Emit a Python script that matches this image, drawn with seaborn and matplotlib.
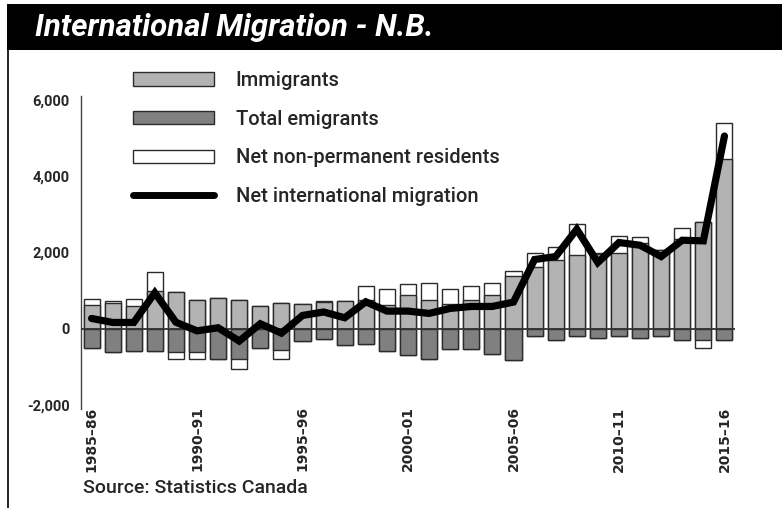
import numpy as np
import pandas as pd
import seaborn as sns
import matplotlib.pyplot as plt
from matplotlib import font_manager
from matplotlib.patches import Patch, Rectangle
from matplotlib.lines import Line2D

years = ["1985–86", "1986–87", "1987–88", "1988–89", "1989–90", "1990–91", "1991–92",
         "1992–93", "1993–94", "1994–95", "1995–96", "1996–97", "1997–98", "1998–99",
         "1999–00", "2000–01", "2001–02", "2002–03", "2003–04", "2004–05", "2005–06",
         "2006–07", "2007–08", "2008–09", "2009–10", "2010–11", "2011–12", "2012–13",
         "2013–14", "2014–15", "2015–16"]
immigrants = [620, 670, 590, 1000, 960, 742, 810, 755, 590, 675, 645, 690, 725, 742, 611, 873,
              760, 646, 751, 873, 1385, 1624, 1798, 1929, 1950, 1995, 2255, 2075, 2366, 2811, 4461]
emigrants = [515, 602, 585, 585, 600, 600, 786, 803, 495, 559, 315, 279, 428, 402, 585, 698,
             786, 532, 532, 655, 815, 185, 288, 183, 244, 183, 253, 183, 306, 306, 288]
net_npr = [165, 70, 180, 490, -190, -190, 0, -258, 0, -244, 0, 50, 0, 367, 419, 297,
           436, 402, 358, 340, 131, 370, 358, 830, 30, 437, 145, 0, 288, -200, 943]
net_migration = [270, 165, 165, 943, 170, -55, 26, -323, 131, -115, 349, 440, 288, 707, 463, 463,
                 402, 533, 585, 585, 700, 1816, 1894, 2610, 1737, 2261, 2191, 1894, 2322, 2305, 5055]

df = pd.DataFrame({"year": years, "imm": immigrants, "emig": emigrants, "npr": net_npr,
                   "net": net_migration})
df["top"] = df.imm + df.npr.clip(lower=0)
df["low"] = -(df.emig - df.npr.clip(upper=0))
df["neg_emig"] = -df.emig
df["pos"] = np.arange(len(df))

names = {f.name for f in font_manager.fontManager.ttflist}
narrow = "Roboto" if "Roboto" in names else "DejaVu Sans"

sns.set_style("white")
plt.rcParams["font.family"] = ["DejaVu Sans"]

fig = plt.figure(figsize=(7.82, 5.08), dpi=100)
ax = fig.add_axes([81 / 782, 103 / 508, 654 / 782, 305 / 508])

light = "#b3b3b3"
dark = "#808080"
edge = "#2b2b2b"
bw = 0.76

# white NPR parts go underneath, the grey bars are drawn over them
sns.barplot(data=df, x="year", y="top", color="white", edgecolor=edge, linewidth=1,
            width=bw, saturation=1, ax=ax)
sns.barplot(data=df, x="year", y="imm", color=light, edgecolor=edge, linewidth=1,
            width=bw, saturation=1, ax=ax)
sns.barplot(data=df, x="year", y="low", color="white", edgecolor=edge, linewidth=1,
            width=bw, saturation=1, ax=ax)
sns.barplot(data=df, x="year", y="neg_emig", color=dark, edgecolor=edge, linewidth=1,
            width=bw, saturation=1, ax=ax)
ax.axhline(0, color="#333333", lw=1.3, zorder=3)
sns.lineplot(data=df, x="pos", y="net", color="black", lw=5.2, ax=ax, zorder=4,
             solid_joinstyle="miter")

ax.set_xlim(-0.5, 30.5)
ax.set_ylim(-2000, 6000)
ax.set_yticks([-2000, 0, 2000, 4000, 6000])
ax.set_yticklabels(["-2,000", "0", "2,000", "4,000", "6,000"], fontfamily=narrow,
                   fontweight="bold", fontsize=10.5)
ticks = list(range(0, 31, 5))
ax.set_xticks(ticks)
ax.set_xticklabels([years[i] for i in ticks], rotation=90, fontweight="bold", fontsize=10,
                   va="top")
ax.tick_params(axis="y", length=0, pad=8)
ax.tick_params(axis="x", length=0, pad=1)
ax.set_xlabel("")
ax.set_ylabel("")
for s in ["top", "right", "bottom"]:
    ax.spines[s].set_visible(False)
ax.spines["left"].set_color("#444444")
ax.spines["left"].set_linewidth(1)
ax.spines["left"].set_bounds(-2100, 6100)
ax.spines["left"].set_clip_on(False)

handles = [Patch(facecolor=light, edgecolor=edge, lw=1),
           Patch(facecolor=dark, edgecolor=edge, lw=1),
           Patch(facecolor="white", edgecolor=edge, lw=1),
           Line2D([], [], color="black", lw=5)]
labels = ["Immigrants", "Total emigrants", "Net non-permanent residents",
          "Net international migration"]
fig.legend(handles, labels, loc="upper left", bbox_to_anchor=(133 / 782, 1 - 71 / 508),
           frameon=False, prop={"family": narrow, "size": 14.5, "weight": "medium"},
           handlelength=4.0, handleheight=0.65, labelspacing=0.98, handletextpad=1.1,
           borderpad=0, borderaxespad=0)

# title band and frame
fig.patches.append(Rectangle((7 / 782, 1 - 50 / 508), 1, 46 / 508, transform=fig.transFigure,
                             facecolor="black", edgecolor="none"))
fig.add_artist(Line2D([8 / 782, 8 / 782], [0, 1 - 50 / 508], transform=fig.transFigure,
                      color="black", lw=1.2))
fig.text(35 / 782, 1 - 28 / 508, "International Migration - N.B.", color="white",
         fontfamily=narrow, fontweight="bold", fontstyle="italic", fontsize=22.5, va="center")
fig.text(83 / 782, 1 - 493 / 508, "Source: Statistics Canada", fontfamily=narrow,
         fontsize=14, fontweight="medium", va="baseline")

fig.savefig("out.png", dpi=100)
